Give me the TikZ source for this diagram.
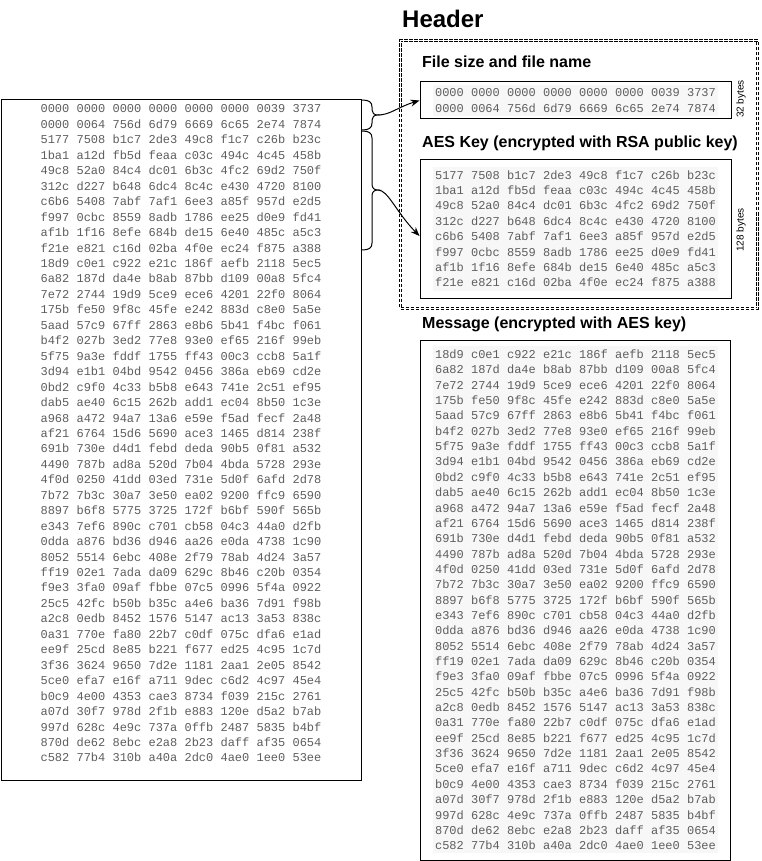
\documentclass[tikz,border=0pt]{standalone}
\usepackage{fontspec}
\setmainfont{Liberation Sans}
\newfontfamily\hexfont{Liberation Mono}
\usetikzlibrary{arrows.meta,calc}
\definecolor{hexgray}{HTML}{5E5E5E}
\definecolor{hexbg}{HTML}{F7F7F7}

\def\hdrlist{0000 0000 0000 0000 0000 0000 0039 3737,
0000 0064 756d 6d79 6669 6c65 2e74 7874}
\def\aeslist{5177 7508 b1c7 2de3 49c8 f1c7 c26b b23c,
1ba1 a12d fb5d feaa c03c 494c 4c45 458b,
49c8 52a0 84c4 dc01 6b3c 4fc2 69d2 750f,
312c d227 b648 6dc4 8c4c e430 4720 8100,
c6b6 5408 7abf 7af1 6ee3 a85f 957d e2d5,
f997 0cbc 8559 8adb 1786 ee25 d0e9 fd41,
af1b 1f16 8efe 684b de15 6e40 485c a5c3,
f21e e821 c16d 02ba 4f0e ec24 f875 a388}
\def\msglist{18d9 c0e1 c922 e21c 186f aefb 2118 5ec5,
6a82 187d da4e b8ab 87bb d109 00a8 5fc4,
7e72 2744 19d9 5ce9 ece6 4201 22f0 8064,
175b fe50 9f8c 45fe e242 883d c8e0 5a5e,
5aad 57c9 67ff 2863 e8b6 5b41 f4bc f061,
b4f2 027b 3ed2 77e8 93e0 ef65 216f 99eb,
5f75 9a3e fddf 1755 ff43 00c3 ccb8 5a1f,
3d94 e1b1 04bd 9542 0456 386a eb69 cd2e,
0bd2 c9f0 4c33 b5b8 e643 741e 2c51 ef95,
dab5 ae40 6c15 262b add1 ec04 8b50 1c3e,
a968 a472 94a7 13a6 e59e f5ad fecf 2a48,
af21 6764 15d6 5690 ace3 1465 d814 238f,
691b 730e d4d1 febd deda 90b5 0f81 a532,
4490 787b ad8a 520d 7b04 4bda 5728 293e,
4f0d 0250 41dd 03ed 731e 5d0f 6afd 2d78,
7b72 7b3c 30a7 3e50 ea02 9200 ffc9 6590,
8897 b6f8 5775 3725 172f b6bf 590f 565b,
e343 7ef6 890c c701 cb58 04c3 44a0 d2fb,
0dda a876 bd36 d946 aa26 e0da 4738 1c90,
8052 5514 6ebc 408e 2f79 78ab 4d24 3a57,
ff19 02e1 7ada da09 629c 8b46 c20b 0354,
f9e3 3fa0 09af fbbe 07c5 0996 5f4a 0922,
25c5 42fc b50b b35c a4e6 ba36 7d91 f98b,
a2c8 0edb 8452 1576 5147 ac13 3a53 838c,
0a31 770e fa80 22b7 c0df 075c dfa6 e1ad,
ee9f 25cd 8e85 b221 f677 ed25 4c95 1c7d,
3f36 3624 9650 7d2e 1181 2aa1 2e05 8542,
5ce0 efa7 e16f a711 9dec c6d2 4c97 45e4,
b0c9 4e00 4353 cae3 8734 f039 215c 2761,
a07d 30f7 978d 2f1b e883 120e d5a2 b7ab,
997d 628c 4e9c 737a 0ffb 2487 5835 b4bf,
870d de62 8ebc e2a8 2b23 daff af35 0654,
c582 77b4 310b a40a 2dc0 4ae0 1ee0 53ee}

\begin{document}
\begin{tikzpicture}[x=1pt,y=-1pt,
  hex/.style={font=\hexfont\fontsize{12}{14}\selectfont, text=hexgray, inner sep=0pt, anchor=base},
  box/.style={draw=black, line width=1pt, inner sep=0pt},
  hexarea/.style={fill=hexbg, draw=none},
  title/.style={font=\bfseries\fontsize{16}{19}\selectfont, anchor=west, inner sep=0pt},
  bytes/.style={font=\fontsize{10}{12}\selectfont, rotate=90, inner sep=0pt},
  conn/.style={draw=black, line width=1pt, -{Stealth[length=9pt,width=7pt]}},
  brace/.style={draw=black, line width=1pt},
  hdrbox/.style={draw=black, double=white, double distance=0.8pt, line width=0.8pt, dash pattern=on 3.5pt off 1.5pt, inner sep=0pt}]
\useasboundingbox (0,0) rectangle (761,861);
\fill[white] (0,0) rectangle (761,861);

% Left full file box
\node[box, minimum width=360pt, minimum height=680pt] (full) at (181,440) {};
\foreach \hexline [count=\i from 0] in \hdrlist
  \node[hex] (lh\i) at (181,{109+\i*15.45+4}) {\hexline};
\foreach \hexline [count=\i from 0] in \aeslist
  \node[hex] (la\i) at (181,{109+(\i+2)*15.45+4}) {\hexline};
\foreach \hexline [count=\i from 0] in \msglist
  \node[hex] (lm\i) at (181,{109+(\i+10)*15.45+4}) {\hexline};

% Header title and dashed region
\node[font=\bfseries\fontsize{24}{28}\selectfont, inner sep=0pt, anchor=west] (htitle) at (402,19) {Header};
\node[hdrbox, minimum width=357pt, minimum height=268pt] (hdr) at (579,174.5) {};

% File size box
\node[title] (t1) at (422,62) {File size and file name};
\node[box, minimum width=311pt, minimum height=37pt] (box1) at (575.5,100.5) {};
\fill[hexarea] (433,85) rectangle (718,116);
\foreach \hexline [count=\i from 0] in \hdrlist
  \node[hex] (bh\i) at (575.5,{92.8+\i*15.4+4}) {\hexline};
\node[bytes] (b32) at (741,99) {32 bytes};

% AES key box
\node[title] (t2) at (422,143) {AES Key (encrypted with RSA public key)};
\node[box, minimum width=311pt, minimum height=138pt] (box2) at (575.5,229) {};
\fill[hexarea] (433,167) rectangle (718,291);
\foreach \hexline [count=\i from 0] in \aeslist
  \node[hex] (ba\i) at (575.5,{175+\i*15.4+4}) {\hexline};
\node[bytes] (b128) at (741,230) {128 bytes};

% Message box
\node[title] (t3) at (422,324) {Message (encrypted with AES key)};
\node[box, minimum width=310pt, minimum height=520pt] (box3) at (575,600) {};
\fill[hexarea] (433,346) rectangle (718,853);
\foreach \hexline [count=\i from 0] in \msglist
  \node[hex] (bm\i) at (575.5,{354.5+\i*15.35+4}) {\hexline};

% Braces
\coordinate (tip1) at (378,115);
\coordinate (tip2) at (378,190);
\draw[brace] (362,100) .. controls (369,100) and (372,102) .. (372,107) -- (372,110)
  .. controls (372,113) and (374,115) .. (tip1)
  .. controls (374,115) and (372,117) .. (372,120) -- (372,123)
  .. controls (372,128) and (369,130) .. (362,130);
\draw[brace] (362,131) .. controls (369,131) and (372,133) .. (372,138) -- (372,184)
  .. controls (372,188) and (374,190) .. (tip2)
  .. controls (374,190) and (372,192) .. (372,196) -- (372,243)
  .. controls (372,248) and (369,250) .. (362,250);

% Connectors
\draw[conn] (tip1) .. controls (390,115) and (398,107) .. (box1.west);
\draw[conn] (tip2) .. controls (388,190) and (396,212) .. ($(box2.west)+(0,7)$);
\end{tikzpicture}
\end{document}
